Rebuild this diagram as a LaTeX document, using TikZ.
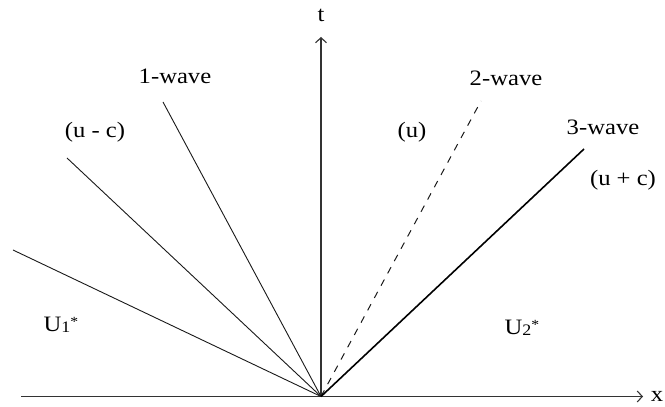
\documentclass[tikz,border=0pt]{standalone}
\usepackage{fontspec}
\setmainfont{Liberation Serif}[FakeStretch=1.12]
\usetikzlibrary{arrows.meta,positioning,calc}

\newcommand{\starsub}[1]{U\raisebox{-1pt}{\fontsize{16}{16}\selectfont #1}\raisebox{5pt}{\fontsize{14}{14}\selectfont *}}

\begin{document}
\begin{tikzpicture}[x=1pt, y=1pt,
  >={Straight Barb[length=5pt,width=11pt]}, font=\fontsize{22}{26}\selectfont,
  axis/.style={draw=black!80, line width=1.1pt},
  wave/.style={draw=black!90, line width=0.9pt},
  contact/.style={draw=black!90, line width=1pt, dash pattern=on 7pt off 7pt},
  fastwave/.style={draw=black, line width=1.6pt},
  lbl/.style={inner sep=0pt, text=black},
]
\useasboundingbox (0,0) rectangle (665,407);

% ======================= Axes =======================
\coordinate (O) at (321,10.5);
\coordinate (xstart) at (21,10.5);
\coordinate (xend) at (643,10.5);
\coordinate (tend) at (321,370);
\draw[axis, ->] (xstart) -- (xend);
\draw[axis, ->] (O) -- (tend);
\node[lbl] (xlab) at (657,10.5) {x};
\node[lbl] (tlab) at (321,392) {t};

% ======================= Left fan =======================
\coordinate (farleft) at (13,157);
\coordinate (slowtop) at (67,249);
\coordinate (onetop) at (163,305);
\draw[wave] (farleft) -- (O);
\draw[wave] (slowtop) -- (O);
\draw[wave] (onetop) -- (O);
\node[lbl] (onelab) at (175,331) {1-wave};
\node[lbl] (umclab) at (95,275) {(u - c)};
\node[lbl] (ulefts) at (61,82) {\starsub{1}};

% ======================= Right waves =======================
\coordinate (twotop) at (481,306);
\coordinate (threetop) at (584,258);
\draw[contact] (O) -- (twotop);
\draw[fastwave] (O) -- (threetop);
\node[lbl] (twolab) at (506,329) {2-wave};
\node[lbl] (ulab) at (412,275) {(u)};
\node[lbl] (threelab) at (603,280) {3-wave};
\node[lbl] (upclab) at (623,227) {(u + c)};
\node[lbl] (urights) at (522,79) {\starsub{2}};

\end{tikzpicture}
\end{document}
